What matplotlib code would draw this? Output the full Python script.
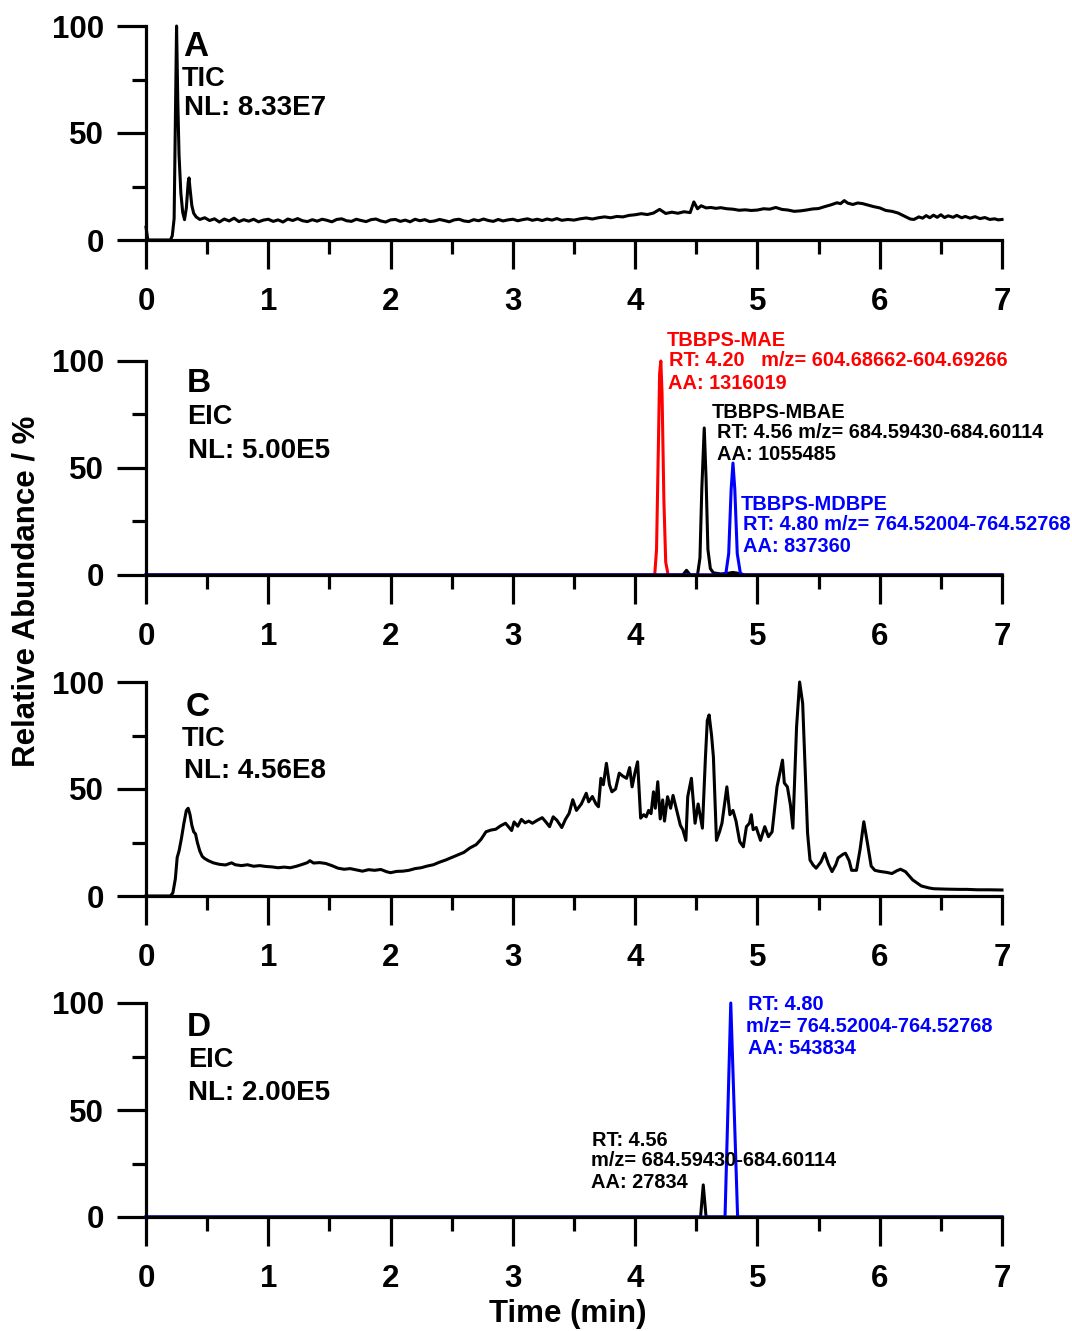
import matplotlib
matplotlib.use("Agg")
import matplotlib.pyplot as plt
from matplotlib.ticker import MultipleLocator

plt.rcParams['font.family'] = ['Liberation Sans', 'DejaVu Sans']
plt.rcParams['font.weight'] = 'bold'

# ---------------- data ----------------
# Panel A : TIC (NL 8.33E7)
A_time = [0.00, 0.015, 0.20, 0.215, 0.23, 0.24, 0.25, 0.26, 0.27, 0.285, 0.30, 0.315, 0.33,
          0.345, 0.352, 0.36, 0.375, 0.39, 0.41, 0.43,
          0.44, 0.48, 0.52, 0.56, 0.60, 0.64, 0.68, 0.72, 0.76, 0.80, 0.84, 0.88, 0.92, 0.96,
          1.00, 1.04, 1.08, 1.12, 1.16, 1.20, 1.24, 1.28, 1.32, 1.36, 1.40, 1.44, 1.48, 1.52,
          1.56, 1.60, 1.64, 1.68, 1.72, 1.76, 1.80, 1.84, 1.88, 1.92, 1.96, 2.00, 2.04, 2.08,
          2.12, 2.16, 2.20, 2.24, 2.28, 2.32, 2.36, 2.40, 2.44, 2.48, 2.52, 2.56, 2.60, 2.64,
          2.68, 2.72, 2.76, 2.80, 2.84, 2.88, 2.92, 2.96, 3.00, 3.04, 3.08, 3.12, 3.16, 3.20,
          3.24, 3.28, 3.32, 3.36,
          3.40, 3.45, 3.50, 3.55, 3.60, 3.65, 3.70, 3.75, 3.80, 3.85, 3.90, 3.95, 4.00, 4.05,
          4.10, 4.15, 4.20, 4.25, 4.30, 4.35, 4.40, 4.45, 4.48, 4.51, 4.54, 4.58, 4.62, 4.66,
          4.70, 4.75, 4.80, 4.85, 4.90, 4.95, 5.00, 5.05, 5.10, 5.15, 5.20, 5.25, 5.30, 5.35,
          5.40, 5.45, 5.50, 5.55, 5.60, 5.65, 5.68, 5.71, 5.74, 5.78, 5.82, 5.86, 5.90, 5.95,
          6.00, 6.05, 6.10, 6.15, 6.20, 6.25, 6.28, 6.32, 6.35, 6.38, 6.41, 6.44, 6.47, 6.50,
          6.53, 6.56, 6.60, 6.63, 6.67, 6.70, 6.74, 6.78, 6.82, 6.86, 6.90, 6.94, 6.97, 7.00]
A_abund = [6.0, 0.0, 0.0, 2.0, 10.0, 55.0, 100.0, 65.0, 40.0, 22.0, 13.0, 9.5, 15.0,
           27.0, 29.0, 24.0, 16.0, 12.5, 10.8, 10.0,
           9.6, 10.4, 9.1, 9.9, 8.4, 9.8, 8.9, 10.2, 8.6, 9.5, 8.8, 9.7, 8.5, 9.3,
           9.7, 8.7, 9.4, 8.4, 9.8, 9.1, 10.0, 9.0, 8.6, 9.5, 8.8, 9.7, 9.2, 8.5,
           9.6, 9.9, 9.0, 8.7, 9.7, 9.1, 8.6, 9.5, 9.8, 8.9, 8.4, 9.4, 9.6, 8.7,
           9.3, 8.5, 9.7, 9.0, 9.5, 8.6, 8.9, 9.6, 9.1, 8.5, 9.4, 9.7, 8.9, 8.6,
           9.5, 9.0, 9.8, 9.1, 8.7, 9.6, 8.9, 9.4, 9.7, 9.0, 9.5, 9.9, 9.2, 9.7,
           9.1, 9.8, 9.3, 10.0,
           9.2, 9.6, 9.3, 9.9, 10.3, 9.8, 10.4, 10.8, 10.4, 11.0, 10.8, 11.5, 11.8, 12.3,
           11.9, 12.6, 14.3, 12.4, 13.0, 12.5, 13.2, 12.8, 17.8, 14.6, 16.0, 15.0, 15.2, 14.8,
           15.1, 14.6, 14.4, 13.9, 14.1, 13.8, 14.0, 14.6, 14.4, 15.2, 14.3, 14.0, 13.4, 13.6,
           14.0, 14.5, 14.7, 15.6, 16.4, 17.4, 17.0, 18.4, 17.2, 16.6, 17.3, 17.0, 16.4, 15.6,
           15.0, 13.8, 13.4, 12.6, 11.2, 9.8, 9.6, 10.8, 10.2, 11.4, 10.4, 11.6, 10.6, 11.8,
           10.5, 11.3, 10.6, 11.5, 10.4, 11.0, 10.2, 10.9, 10.0, 10.5, 9.6, 9.9, 9.4, 9.6]

# Panel B : EIC (NL 5.00E5)
B_mae_time = [0.00, 4.16, 4.175, 4.19, 4.20, 4.21, 4.22, 4.235, 4.25, 4.27, 4.40, 4.43, 4.46,
              4.70, 4.75, 4.80, 4.85, 7.00]
B_mae_abund = [0.0, 0.0, 12.0, 60.0, 94.0, 100.0, 85.0, 35.0, 6.0, 0.0, 0.0, 0.6, 0.0,
               0.0, 0.5, 0.8, 0.0, 0.0]
B_mbae_time = [0.00, 4.39, 4.42, 4.45, 4.51, 4.53, 4.545, 4.565, 4.58, 4.595, 4.615, 4.64,
               4.70, 4.76, 4.80, 4.84, 4.90, 7.00]
B_mbae_abund = [0.0, 0.0, 2.2, 0.0, 0.0, 8.0, 40.0, 68.7, 45.0, 12.0, 3.0, 1.0,
                0.5, 0.8, 1.2, 0.8, 0.0, 0.0]
B_mdbpe_time = [0.00, 4.74, 4.765, 4.785, 4.80, 4.815, 4.835, 4.86, 4.88, 7.00]
B_mdbpe_abund = [0.0, 0.0, 10.0, 40.0, 52.3, 40.0, 10.0, 1.0, 0.0, 0.0]

# Panel C : TIC (NL 4.56E8)
C_time = [0.00, 0.20, 0.22, 0.24, 0.255, 0.27, 0.29, 0.31, 0.33, 0.345, 0.36, 0.375, 0.39,
          0.405, 0.42, 0.44, 0.46, 0.48, 0.51, 0.55, 0.60, 0.65, 0.70, 0.73, 0.78, 0.83, 0.88,
          0.93, 0.98, 1.03, 1.08, 1.13, 1.18, 1.23, 1.28, 1.32, 1.34, 1.37, 1.42, 1.47, 1.52,
          1.57, 1.62, 1.67, 1.72, 1.77, 1.82, 1.87, 1.92, 1.97, 2.00, 2.05, 2.10, 2.15, 2.20,
          2.25, 2.30, 2.35, 2.40, 2.45, 2.50, 2.55, 2.60, 2.65, 2.70, 2.74, 2.78, 2.82, 2.86,
          2.90, 2.94, 2.97, 2.99, 3.01, 3.04, 3.07, 3.10, 3.13, 3.16, 3.20, 3.24, 3.27, 3.30,
          3.33, 3.36, 3.40, 3.43, 3.46, 3.49, 3.52, 3.56, 3.60, 3.62, 3.65, 3.68, 3.70, 3.72,
          3.74, 3.765, 3.79, 3.81, 3.84, 3.87, 3.90, 3.93, 3.955, 3.975, 4.00, 4.02, 4.045,
          4.07, 4.09, 4.11, 4.13, 4.15, 4.165, 4.185, 4.205, 4.225, 4.24, 4.265, 4.29, 4.31,
          4.34, 4.37, 4.39, 4.415, 4.43, 4.46, 4.49, 4.515, 4.55, 4.575, 4.59, 4.605, 4.625,
          4.64, 4.665, 4.69, 4.71, 4.75, 4.775, 4.80, 4.825, 4.855, 4.885, 4.91, 4.935, 4.95,
          4.965, 4.99, 5.025, 5.06, 5.09, 5.12, 5.16, 5.205, 5.22, 5.245, 5.27, 5.29, 5.32,
          5.345, 5.37, 5.41, 5.43, 5.455, 5.48, 5.52, 5.55, 5.58, 5.61, 5.64, 5.66, 5.70,
          5.72, 5.75, 5.77, 5.81, 5.84, 5.87, 5.90, 5.93, 5.96, 6.00, 6.06, 6.10, 6.14, 6.17,
          6.21, 6.27, 6.34, 6.40, 6.44, 6.55, 6.65, 6.71, 6.80, 6.90, 6.98, 7.00]
C_abund = [0.0, 0.0, 1.5, 8.0, 18.0, 21.0, 27.0, 34.0, 40.0, 41.0, 38.0, 33.0, 30.0,
           29.0, 25.0, 21.0, 18.5, 17.5, 16.5, 15.5, 14.8, 14.5, 15.5, 14.6, 14.2, 14.6, 13.9,
           14.2, 13.8, 13.6, 13.2, 13.5, 13.2, 13.9, 14.8, 15.6, 16.5, 15.4, 15.6, 15.2, 14.2,
           13.0, 12.5, 12.8, 12.2, 11.6, 12.3, 12.0, 12.4, 11.3, 10.9, 11.5, 11.6, 12.0, 12.8,
           13.2, 14.0, 14.6, 15.8, 16.8, 18.0, 19.2, 20.4, 22.5, 24.0, 26.5, 30.0, 30.8, 31.2,
           32.8, 34.0, 32.0, 30.6, 34.6, 32.6, 35.8, 34.2, 35.0, 34.0, 35.4, 36.6, 34.6, 32.4,
           37.0, 35.4, 32.0, 35.8, 38.6, 45.0, 40.0, 43.0, 48.0, 44.0, 46.5, 43.0, 41.7, 55.0,
           52.0, 62.0, 52.0, 48.7, 50.0, 57.4, 56.0, 55.0, 60.0, 51.0, 58.0, 62.7, 36.4,
           38.0, 37.0, 40.0, 38.5, 48.7, 41.0, 53.4, 36.0, 44.9, 35.0, 46.4, 41.0, 47.0,
           40.0, 33.0, 31.0, 26.0, 46.4, 55.0, 34.0, 43.0, 31.7, 65.0, 82.0, 84.6, 75.0,
           65.0, 26.0, 30.0, 34.0, 51.0, 38.0, 40.0, 35.0, 25.4, 23.0, 32.4, 34.0, 38.0,
           31.0, 32.0, 26.0, 32.4, 27.7, 30.0, 51.0, 63.5, 52.8, 51.0, 42.5, 31.7, 79.0,
           100.0, 90.0, 29.4, 16.8, 14.5, 13.0, 16.0, 20.0, 15.0, 11.4, 14.5, 17.8, 19.5,
           20.0, 16.5, 12.0, 12.0, 22.0, 34.7, 24.6, 14.0, 12.0, 11.5, 11.0, 10.5, 11.8, 12.5,
           11.4, 7.5, 4.7, 3.8, 3.4, 3.2, 3.1, 3.1, 2.9, 2.9, 2.8, 2.8]

# Panel D : EIC (NL 2.00E5)
D_mbae_time = [0.00, 4.535, 4.557, 4.58, 7.00]
D_mbae_abund = [0.0, 0.0, 15.0, 0.0, 0.0]
D_mdbpe_time = [0.00, 4.735, 4.782, 4.838, 7.00]
D_mdbpe_abund = [0.0, 0.0, 100.0, 0.0, 0.0]

x_ticks = [0, 1, 2, 3, 4, 5, 6, 7]
y_ticks = [0, 50, 100]

# ---------------- figure ----------------
W, H = 1072, 1331
fig = plt.figure(figsize=(W / 100, H / 100), dpi=100)

def px_axes(y_zero, y_hundred):
    left = 146 / W
    width = (1002 - 146) / W
    bottom = 1 - y_zero / H
    height = (y_zero - y_hundred) / H
    return fig.add_axes([left, bottom, width, height])

axes = [px_axes(240, 26), px_axes(575, 361), px_axes(896, 682), px_axes(1217, 1003)]

LW = 2.2
for ax in axes:
    ax.set_xlim(0, 7)
    ax.set_ylim(0, 100)
    for s in ['top', 'right']:
        ax.spines[s].set_visible(False)
    for s in ['left', 'bottom']:
        ax.spines[s].set_linewidth(2.3)
    ax.set_xticks(x_ticks)
    ax.set_yticks(y_ticks)
    ax.xaxis.set_minor_locator(MultipleLocator(0.5))
    ax.yaxis.set_minor_locator(MultipleLocator(25))
    ax.tick_params(axis='both', which='major', length=21, width=2.3, labelsize=22.5)
    ax.tick_params(axis='both', which='minor', length=10, width=2.3)
    ax.tick_params(axis='x', which='major', pad=13)
    ax.tick_params(axis='y', which='major', pad=9)
    for lab in ax.get_xticklabels() + ax.get_yticklabels():
        lab.set_fontweight('bold')

axA, axB, axC, axD = axes
axA.plot(A_time, A_abund, color='black', lw=LW, clip_on=False)
axB.plot(B_mae_time, B_mae_abund, color='red', lw=LW, clip_on=False)
axB.plot(B_mbae_time, B_mbae_abund, color='black', lw=LW, clip_on=False)
axB.plot(B_mdbpe_time, B_mdbpe_abund, color='blue', lw=LW, clip_on=False)
axC.plot(C_time, C_abund, color='black', lw=LW, clip_on=False)
axD.plot(D_mbae_time, D_mbae_abund, color='black', lw=LW, clip_on=False)
axD.plot(D_mdbpe_time, D_mdbpe_abund, color='blue', lw=LW, clip_on=False)

def put(x_px, y_px, s, size, color='black'):
    fig.text(x_px / W, 1 - y_px / H, s, fontsize=size, color=color,
             fontweight='bold', ha='left', va='center')

# panel labels
put(183, 46, 'A', 25); put(182, 79, 'TIC', 19.5); put(184, 108, 'NL: 8.33E7', 20)
put(187, 384, 'B', 24); put(187, 417, 'EIC', 19.5); put(188, 451, 'NL: 5.00E5', 20)
put(186, 707, 'C', 24); put(182, 739, 'TIC', 19.5); put(184, 771, 'NL: 4.56E8', 20)
put(187, 1027, 'D', 24); put(188, 1060, 'EIC', 19.5); put(188, 1093, 'NL: 2.00E5', 20)

# panel B annotations
fs = 14.4
put(667, 340, 'TBBPS-MAE', fs, 'red')
put(669, 361, 'RT: 4.20   m/z= 604.68662-604.69266', fs, 'red')
put(668, 383, 'AA: 1316019', fs, 'red')
put(712, 412, 'TBBPS-MBAE', fs, 'black')
put(717, 433, 'RT: 4.56 m/z= 684.59430-684.60114', fs, 'black')
put(717, 454, 'AA: 1055485', fs, 'black')
put(741, 505, 'TBBPS-MDBPE', fs, 'blue')
put(743, 525, 'RT: 4.80 m/z= 764.52004-764.52768', fs, 'blue')
put(743, 546, 'AA: 837360', fs, 'blue')

# panel D annotations
put(748, 1005, 'RT: 4.80', fs, 'blue')
put(746, 1026, 'm/z= 764.52004-764.52768', fs, 'blue')
put(748, 1048, 'AA: 543834', fs, 'blue')
put(592, 1140, 'RT: 4.56', fs, 'black')
put(591, 1160, 'm/z= 684.59430-684.60114', fs, 'black')
put(591, 1183, 'AA: 27834', fs, 'black')

# axis titles
fig.text(27 / W, 1 - 591 / H, 'Relative Abundance / %', rotation=90, fontsize=22.5,
         fontweight='bold', ha='center', va='center')
fig.text(568 / W, 1 - 1314 / H, 'Time (min)', fontsize=22.5, fontweight='bold',
         ha='center', va='center')

fig.savefig('out.png', dpi=100)
